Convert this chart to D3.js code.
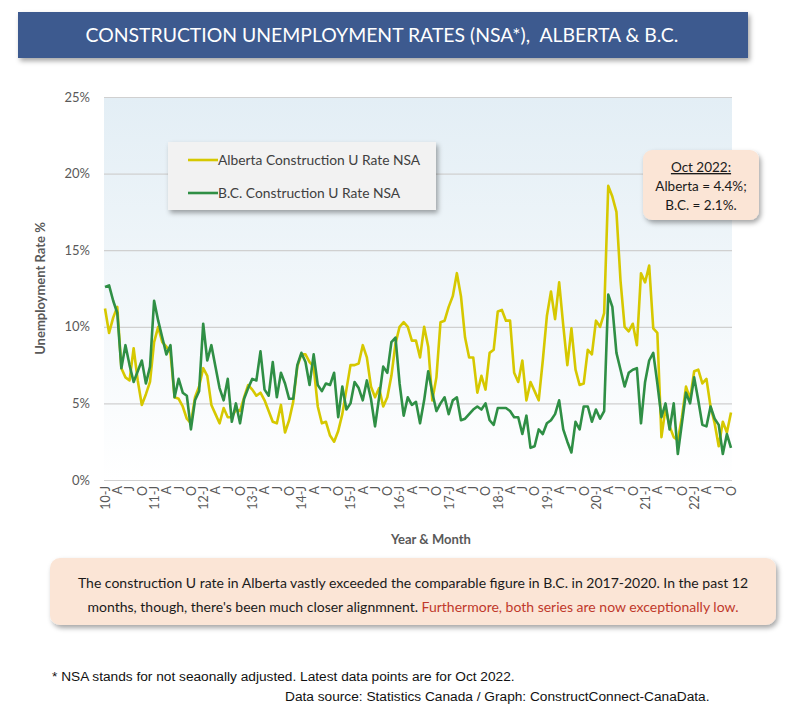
<!DOCTYPE html>
<html>
<head>
<meta charset="utf-8">
<script src="https://cdn.jsdelivr.net/npm/d3@7"></script>
<style>
  body { margin: 0; background: #fff; }
  svg { display: block; }
</style>
</head>
<body>
<div id="chart"></div>
<script>
const width = 800;
const height = 715;

// monthly values, Jan 2010 .. Oct 2022
const alberta = [
  11.2, 9.6, 10.6, 11.3, 7.3, 6.7, 6.5, 8.6, 6.5, 4.9, 5.6, 6.4,
  9.0, 10.0, 9.0, 8.7, 8.3, 5.4, 5.3, 4.8, 4.0, 3.7, 5.4, 6.1,
  7.3, 6.8, 4.9, 4.3, 3.7, 4.7, 4.1, 4.1, 4.6, 4.5, 5.4, 6.2,
  5.9, 5.5, 5.7, 5.2, 4.5, 3.8, 3.7, 4.9, 3.1, 3.9, 5.1, 7.4,
  8.2, 8.2, 7.7, 7.4, 4.8, 3.7, 3.8, 2.9, 2.5, 3.2, 4.3, 5.9,
  7.5, 7.5, 7.6, 8.8, 8.0, 6.1, 5.4, 6.0, 4.8, 5.4, 6.8, 8.9,
  10.0, 10.3, 10.0, 9.1, 9.1, 8.0, 10.0, 8.7, 5.2, 6.7, 10.3, 10.4,
  11.3, 12.0, 13.5, 12.0, 9.3, 8.0, 8.0, 5.7, 6.8, 5.9, 8.3, 8.5,
  11.0, 11.1, 10.4, 10.4, 7.0, 6.4, 7.8, 5.2, 6.4, 5.8, 5.2, 7.8,
  10.7, 12.3, 10.5, 12.9, 10.1, 7.5, 9.9, 7.2, 6.2, 6.3, 8.5, 8.2,
  10.4, 10.0, 10.9, 19.2, 18.5, 17.5, 13.0, 10.0, 9.7, 10.2, 8.8, 13.5,
  12.9, 14.0, 9.9, 9.6, 2.8, 4.7, 3.5, 2.8, 2.6, 4.1, 6.1, 5.3,
  7.1, 7.2, 6.3, 6.6, 4.8, 3.7, 2.2, 3.8, 3.1, 4.4
];

const bc = [
  12.6, 12.7, 11.7, 10.9, 7.3, 8.8, 7.5, 6.4, 7.1, 7.8, 6.3, 7.4,
  11.7, 10.4, 9.3, 8.2, 8.8, 5.4, 6.6, 5.7, 5.5, 3.3, 5.2, 5.8,
  10.2, 7.8, 8.8, 7.4, 6.0, 5.2, 6.6, 3.8, 5.0, 3.7, 5.3, 6.0,
  6.6, 6.5, 8.4, 5.9, 5.5, 7.7, 5.4, 7.0, 6.3, 5.3, 5.3, 7.5,
  8.3, 7.7, 6.2, 8.2, 6.2, 5.8, 6.3, 6.2, 7.0, 4.1, 6.1, 4.6,
  5.0, 6.4, 6.0, 5.2, 6.5, 5.3, 3.5, 5.4, 7.4, 7.0, 9.0, 9.3,
  6.3, 4.2, 5.4, 4.9, 5.1, 3.7, 5.2, 7.1, 5.7, 4.5, 5.0, 5.4,
  4.3, 5.2, 5.4, 3.9, 4.0, 4.3, 4.6, 4.8, 4.6, 5.0, 3.9, 3.6,
  4.7, 4.7, 4.7, 4.5, 4.1, 4.1, 3.0, 4.2, 2.1, 2.2, 3.3, 3.0,
  3.7, 3.9, 4.3, 5.2, 3.3, 2.5, 1.8, 3.8, 3.3, 4.8, 4.8, 3.8,
  4.6, 4.0, 4.5, 12.1, 11.3, 8.3, 7.2, 6.1, 7.0, 7.2, 7.3, 3.7,
  6.4, 7.8, 8.3, 6.3, 4.1, 5.0, 3.3, 5.0, 1.7, 3.7, 5.7, 5.0,
  6.7, 5.2, 3.6, 3.5, 4.8, 4.0, 3.6, 1.7, 3.0, 2.1
];

const startYear = 10;
const monthLetters = {0: "J", 3: "A", 6: "J", 9: "O"};
const yTicks = [0, 5, 10, 15, 20, 25];

const seriesNames = ["Alberta Construction U Rate NSA", "B.C. Construction U Rate NSA"];
const seriesColors = ["#d6c800", "#2f8f45"];

const title = "CONSTRUCTION UNEMPLOYMENT RATES (NSA*),  ALBERTA & B.C.";
const calloutLines = ["Oct 2022:", "Alberta = 4.4%;", "B.C. = 2.1%."];
const commentLine1 = "The construction U rate in Alberta vastly exceeded the comparable figure in B.C. in 2017-2020. In the past 12";
const commentLine2a = "months, though, there's been much closer alignmnent. ";
const commentLine2b = "Furthermore, both series are now exceptionally low.";
const footnote1 = "* NSA stands for not seaonally adjusted. Latest data points are for Oct 2022.";
const footnote2 = "Data source: Statistics Canada / Graph: ConstructConnect-CanaData.";

const font = "Lato, 'Open Sans', sans-serif";

const plot = {left: 104, right: 732, top: 97, bottom: 480};

const svg = d3.select("#chart")
    .append("svg")
    .attr("width", width)
    .attr("height", height)
    .style("font-family", font);

const defs = svg.append("defs");

const bg = defs.append("linearGradient")
    .attr("id", "plotbg")
    .attr("x1", 0).attr("y1", 0).attr("x2", 0).attr("y2", 1);
bg.append("stop").attr("offset", "0%").attr("stop-color", "#e3eef5");
bg.append("stop").attr("offset", "100%").attr("stop-color", "#ffffff");

const shadow = defs.append("filter")
    .attr("id", "shadow")
    .attr("x", "-10%").attr("y", "-10%")
    .attr("width", "130%").attr("height", "140%");
shadow.append("feDropShadow")
    .attr("dx", 2).attr("dy", 3)
    .attr("stdDeviation", 2.5)
    .attr("flood-color", "#000")
    .attr("flood-opacity", 0.35);

// title banner
svg.append("rect")
    .attr("x", 18).attr("y", 12)
    .attr("width", 730).attr("height", 46)
    .attr("fill", "#3d5a8f")
    .attr("filter", "url(#shadow)");

svg.append("text")
    .attr("x", 382).attr("y", 42)
    .attr("text-anchor", "middle")
    .attr("fill", "#fff")
    .style("font-size", "19.4px")
    .style("white-space", "pre")
    .text(title);

// scales
const x = d3.scaleLinear()
    .domain([0, alberta.length - 1])
    .range([plot.left + 1, plot.right - 1]);

const y = d3.scaleLinear()
    .domain([0, 25])
    .range([plot.bottom, plot.top]);

svg.append("rect")
    .attr("x", plot.left).attr("y", plot.top)
    .attr("width", plot.right - plot.left)
    .attr("height", plot.bottom - plot.top)
    .attr("fill", "url(#plotbg)");

// y axis with gridlines
const yAxis = svg.append("g")
    .attr("transform", `translate(${plot.left},0)`)
    .call(d3.axisLeft(y)
        .tickValues(yTicks)
        .tickSize(-(plot.right - plot.left))
        .tickPadding(14)
        .tickFormat(d => d + "%"));

yAxis.select(".domain").remove();
yAxis.selectAll(".tick line")
    .attr("stroke", "#d0d0d0")
    .attr("stroke-width", 1.2);
yAxis.selectAll(".tick text")
    .attr("fill", "#595959")
    .style("font-family", font)
    .style("font-size", "13px");

// x axis
const monthIdx = d3.range(0, alberta.length, 3);
const xAxis = svg.append("g")
    .attr("transform", `translate(0,${plot.bottom})`)
    .call(d3.axisBottom(x)
        .tickValues(monthIdx)
        .tickSize(0)
        .tickFormat(i => {
            const m = i % 12;
            const yr = startYear + Math.floor(i / 12);
            return m === 0 ? `${yr}-J` : monthLetters[m];
        }));

xAxis.select(".domain").remove();
xAxis.selectAll(".tick text")
    .attr("transform", "rotate(-90)")
    .attr("text-anchor", "end")
    .attr("x", -6)
    .attr("y", 0)
    .attr("dy", "0.35em")
    .attr("fill", "#595959")
    .style("font-family", font)
    .style("font-size", "12.5px");

// axis titles
svg.append("text")
    .attr("transform", `translate(45,${(plot.top + plot.bottom) / 2}) rotate(-90)`)
    .attr("text-anchor", "middle")
    .attr("fill", "#595959")
    .style("font-size", "13px")
    .style("font-weight", "bold")
    .text("Unemployment Rate %");

svg.append("text")
    .attr("x", 431).attr("y", 544)
    .attr("text-anchor", "middle")
    .attr("fill", "#595959")
    .style("font-size", "13px")
    .style("font-weight", "bold")
    .text("Year & Month");

// lines
const line = d3.line()
    .x((d, i) => x(i))
    .y(d => y(d));

svg.selectAll(".series")
    .data([alberta, bc])
    .join("path")
    .attr("class", "series")
    .attr("fill", "none")
    .attr("stroke", (d, i) => seriesColors[i])
    .attr("stroke-width", 2.6)
    .attr("stroke-linejoin", "round")
    .attr("d", line);

// legend
const legend = svg.append("g");
legend.append("rect")
    .attr("x", 168).attr("y", 142)
    .attr("width", 268).attr("height", 68)
    .attr("fill", "#f2f2f2")
    .attr("filter", "url(#shadow)");

const legendItem = legend.selectAll(".item")
    .data(seriesNames)
    .join("g")
    .attr("class", "item")
    .attr("transform", (d, i) => `translate(188,${160 + i * 33})`);

legendItem.append("line")
    .attr("x1", 0).attr("x2", 30)
    .attr("stroke", (d, i) => seriesColors[i])
    .attr("stroke-width", 2.6);

legendItem.append("text")
    .attr("x", 30)
    .attr("dy", "0.35em")
    .attr("fill", "#404040")
    .style("font-size", "13.8px")
    .text(d => d);

// callout box
svg.append("rect")
    .attr("x", 643).attr("y", 150)
    .attr("width", 116).attr("height", 70)
    .attr("rx", 9)
    .attr("fill", "#fbe5d6")
    .attr("filter", "url(#shadow)");

svg.append("g")
    .selectAll("text")
    .data(calloutLines)
    .join("text")
    .attr("x", 701)
    .attr("y", (d, i) => 172 + i * 19)
    .attr("text-anchor", "middle")
    .attr("fill", "#1a1a1a")
    .style("font-size", "13.5px")
    .style("text-decoration", (d, i) => i === 0 ? "underline" : null)
    .text(d => d);

// comment box
svg.append("rect")
    .attr("x", 50).attr("y", 558)
    .attr("width", 726).attr("height", 67)
    .attr("rx", 10)
    .attr("fill", "#fbe5d6")
    .attr("filter", "url(#shadow)");

svg.append("text")
    .attr("x", 413).attr("y", 588)
    .attr("text-anchor", "middle")
    .attr("fill", "#1a1a1a")
    .style("font-size", "14px")
    .text(commentLine1);

const c2 = svg.append("text")
    .attr("x", 413).attr("y", 612)
    .attr("text-anchor", "middle")
    .attr("fill", "#1a1a1a")
    .style("font-size", "14px");
c2.append("tspan").text(commentLine2a);
c2.append("tspan").attr("fill", "#c0392b").text(commentLine2b);

// footnotes
svg.append("text")
    .attr("x", 52).attr("y", 681)
    .attr("fill", "#111")
    .style("font-family", "'Liberation Sans', Arial, sans-serif")
    .style("font-size", "13.7px")
    .text(footnote1);

svg.append("text")
    .attr("x", 285).attr("y", 701)
    .attr("fill", "#111")
    .style("font-family", "'Liberation Sans', Arial, sans-serif")
    .style("font-size", "13.7px")
    .text(footnote2);
</script>
</body>
</html>
